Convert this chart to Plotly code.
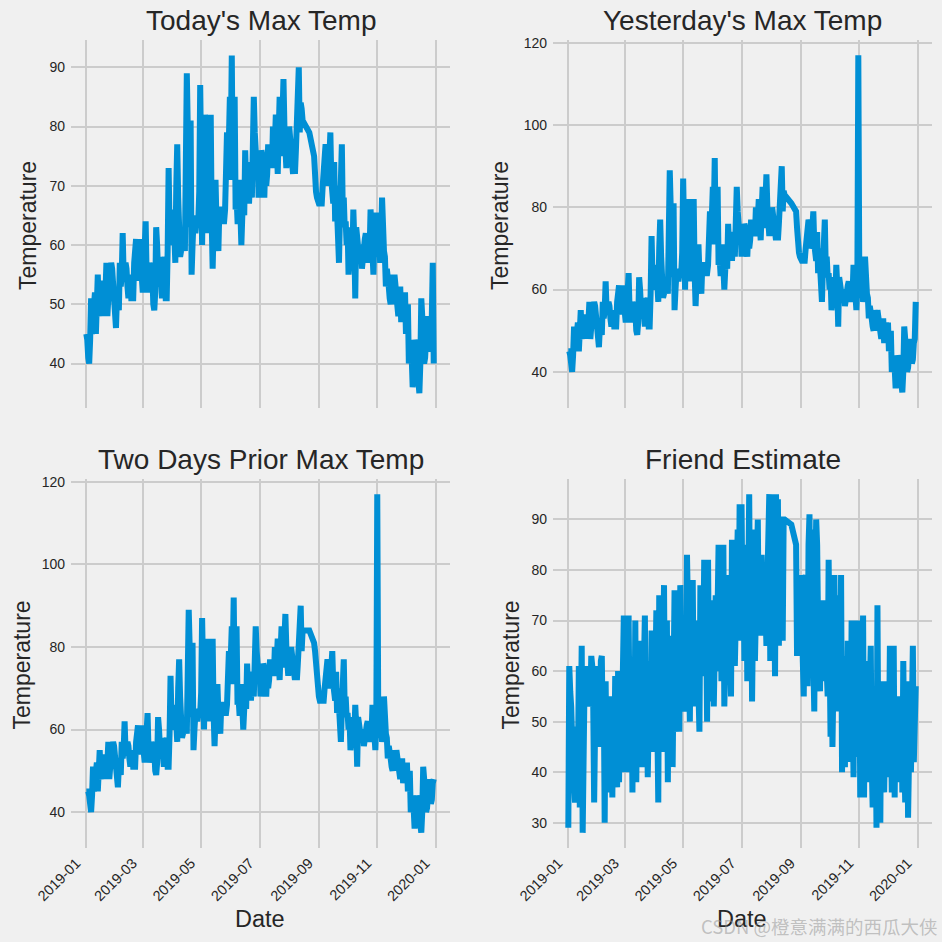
import pandas as pd
import plotly.graph_objs as go

# Aug 16-21 and Aug 23-26 have no readings
skipped = ['2019-08-16', '2019-08-17', '2019-08-18', '2019-08-19', '2019-08-20', '2019-08-21',
           '2019-08-23', '2019-08-24', '2019-08-25', '2019-08-26']
dates = pd.date_range('2019-01-01', '2019-12-30').drop(pd.to_datetime(skipped))

today = [
    45, 44, 41, 40, 44, 51, 45, 48, 50, 52, 45, 49, 55, 49, 48, 54, 50, 54, 48, 52, 52, 57, 48, 51, 54, 56, 57, 56, 52, 48, 47,
    46, 51, 49, 49, 57, 53, 55, 62, 55, 56, 57, 56, 53, 51, 53, 55, 51, 51, 51, 57, 60, 61, 55, 54, 58, 61, 57, 53,
    52, 55, 59, 64, 55, 52, 54, 57, 56, 53, 55, 50, 49, 52, 63, 60, 55, 53, 58, 52, 51, 55, 56, 58, 51, 51, 59, 73, 63, 60, 62,
    60, 66, 62, 57, 70, 77, 68, 60, 58, 59, 60, 61, 61, 59, 72, 89, 80, 68, 63, 81, 55, 60, 64, 65, 62, 64, 63, 64, 69, 87,
    66, 60, 74, 68, 82, 63, 62, 68, 72, 66, 82, 64, 56, 63, 66, 71, 64, 59, 59, 66, 66, 65, 66, 64, 64, 66, 72, 79, 71, 80, 85,
    78, 92, 71, 77, 85, 66, 68, 64, 64, 71, 65, 60, 65, 69, 65, 76, 70, 74, 68, 67, 71, 73, 68, 78, 85, 79, 76, 73, 76, 68,
    72, 68, 76, 75, 70, 68, 74, 70, 72, 77, 74, 73, 75, 73, 80, 79, 77, 82, 78, 72, 79, 85, 78, 75, 82, 88, 80, 76, 73, 76, 74,
    80, 78, 76, 74, 72, 75, 72, 76, 80, 84, 90, 79, 84, 83, 81, 79, 75, 70, 69, 68, 67,
    67, 67, 67, 67, 70, 72, 74, 77, 76, 70, 71, 75, 79, 71, 68, 67, 74, 64, 70, 65, 62, 57, 65, 70, 77, 65, 68, 63, 64, 60,
    63, 55, 60, 62, 63, 58, 66, 61, 51, 63, 60, 60, 58, 59, 60, 56, 59, 58, 61, 62, 60, 57, 62, 59, 66, 60, 58, 55, 62, 58, 65,
    65, 58, 62, 57, 60, 68, 60, 59, 58, 53, 56, 55, 53, 51, 50, 55, 52, 50, 55, 53, 51, 50, 48, 50, 53, 47, 49, 52, 47, 52,
    45, 48, 50, 40, 42, 44, 41, 36, 40, 44, 43, 41, 38, 35, 35, 40, 51, 48, 44, 40, 41, 44, 48, 46, 42, 43, 47, 48, 57, 40,
]

yesterday = [
    45, 45, 44, 41, 40, 44, 51, 45, 48, 50, 52, 45, 49, 55, 49, 48, 54, 50, 54, 48, 52, 52, 57, 48, 51, 54, 56, 57, 56, 52, 48,
    47, 46, 51, 49, 49, 57, 53, 55, 62, 55, 56, 57, 56, 53, 51, 53, 55, 51, 51, 51, 57, 60, 61, 55, 54, 58, 61, 57,
    53, 52, 55, 59, 64, 55, 52, 54, 57, 56, 53, 55, 50, 49, 52, 63, 60, 55, 53, 58, 52, 51, 55, 56, 58, 51, 51, 59, 73, 63, 60,
    62, 60, 66, 62, 57, 70, 77, 68, 60, 58, 59, 60, 61, 61, 59, 72, 89, 80, 68, 63, 81, 55, 60, 64, 65, 62, 64, 63, 64, 69,
    87, 66, 60, 74, 68, 82, 63, 62, 68, 72, 66, 82, 64, 56, 63, 66, 71, 64, 59, 59, 66, 66, 65, 66, 64, 64, 66, 72, 79, 71, 80,
    85, 78, 92, 71, 77, 85, 66, 68, 64, 64, 71, 65, 60, 65, 69, 65, 76, 70, 74, 68, 67, 71, 73, 68, 78, 85, 79, 76, 73, 76,
    68, 72, 68, 76, 75, 70, 68, 74, 70, 72, 77, 74, 73, 75, 73, 80, 79, 77, 82, 78, 72, 79, 85, 78, 75, 82, 88, 80, 76, 73, 76,
    74, 80, 78, 76, 74, 72, 75, 72, 76, 80, 84, 90, 79, 84, 83, 81, 79, 75, 70, 69, 68,
    67, 67, 67, 67, 67, 70, 72, 74, 77, 76, 70, 71, 75, 79, 71, 68, 67, 74, 64, 70, 65, 62, 57, 65, 70, 77, 65, 68, 63, 64,
    60, 63, 55, 60, 62, 63, 58, 66, 61, 51, 63, 60, 60, 58, 59, 60, 56, 59, 58, 61, 62, 60, 57, 62, 59, 66, 60, 58, 55, 62, 117,
    65, 65, 58, 62, 57, 60, 68, 60, 59, 58, 53, 56, 55, 53, 51, 50, 55, 52, 50, 55, 53, 51, 50, 48, 50, 53, 47, 49, 52, 47,
    52, 45, 48, 50, 40, 42, 44, 41, 36, 40, 44, 43, 41, 38, 35, 35, 40, 51, 48, 44, 40, 41, 44, 48, 46, 42, 43, 47, 48, 57,
]

two_days = [
    45, 45, 45, 44, 41, 40, 44, 51, 45, 48, 50, 52, 45, 49, 55, 49, 48, 54, 50, 54, 48, 52, 52, 57, 48, 51, 54, 56, 57, 56, 52,
    48, 47, 46, 51, 49, 49, 57, 53, 55, 62, 55, 56, 57, 56, 53, 51, 53, 55, 51, 51, 51, 57, 60, 61, 55, 54, 58, 61,
    57, 53, 52, 55, 59, 64, 55, 52, 54, 57, 56, 53, 55, 50, 49, 52, 63, 60, 55, 53, 58, 52, 51, 55, 56, 58, 51, 51, 59, 73, 63,
    60, 62, 60, 66, 62, 57, 70, 77, 68, 60, 58, 59, 60, 61, 61, 59, 72, 89, 80, 68, 63, 81, 55, 60, 64, 65, 62, 64, 63, 64,
    69, 87, 66, 60, 74, 68, 82, 63, 62, 68, 72, 66, 82, 64, 56, 63, 66, 71, 64, 59, 59, 66, 66, 65, 66, 64, 64, 66, 72, 79, 71,
    80, 85, 78, 92, 71, 77, 85, 66, 68, 64, 64, 71, 65, 60, 65, 69, 65, 76, 70, 74, 68, 67, 71, 73, 68, 78, 85, 79, 76, 73,
    76, 68, 72, 68, 76, 75, 70, 68, 74, 70, 72, 77, 74, 73, 75, 73, 80, 79, 77, 82, 78, 72, 79, 85, 78, 75, 82, 88, 80, 76, 73,
    76, 74, 80, 78, 76, 74, 72, 75, 72, 76, 80, 84, 90, 79, 84, 84, 81, 79, 75, 70, 69,
    68, 67, 67, 67, 67, 67, 70, 72, 74, 77, 76, 70, 71, 75, 79, 71, 68, 67, 74, 64, 70, 65, 62, 57, 65, 70, 77, 65, 68, 63,
    64, 60, 63, 55, 60, 62, 63, 58, 66, 61, 51, 63, 60, 60, 58, 59, 60, 56, 59, 58, 61, 62, 60, 57, 62, 59, 66, 60, 58, 55, 62,
    117, 65, 65, 58, 62, 57, 60, 68, 60, 59, 58, 53, 56, 55, 53, 51, 50, 55, 52, 50, 55, 53, 51, 50, 48, 50, 53, 47, 49, 52,
    47, 52, 45, 48, 50, 40, 42, 44, 41, 36, 40, 44, 43, 41, 38, 35, 35, 40, 51, 48, 44, 40, 41, 44, 48, 46, 42, 43, 47, 48,
]

friend = [
    29, 61, 56, 53, 41, 40, 38, 34, 47, 49, 39, 61, 33, 58, 65, 28, 47, 58, 53, 61, 57, 60, 53, 54, 63, 61, 54, 34, 49, 47, 61,
    51, 56, 45, 62, 63, 47, 57, 30, 58, 40, 50, 36, 44, 55, 48, 35, 54, 42, 59, 45, 37, 60, 38, 55, 46, 40, 60, 71,
    45, 71, 40, 64, 71, 50, 42, 60, 36, 59, 45, 70, 38, 55, 48, 66, 42, 58, 41, 52, 63, 71, 46, 58, 39, 54, 62, 47, 68, 44, 60,
    48, 55, 72, 50, 34, 75, 52, 64, 44, 58, 77, 49, 60, 70, 38, 64, 45, 56, 67, 41, 57, 76, 52, 48, 66, 73, 48, 77, 55, 62,
    71, 64, 52, 56, 83, 60, 72, 50, 75, 63, 78, 55, 66, 53, 60, 70, 56, 48, 77, 59, 68, 64, 82, 60, 72, 50, 82, 58, 74, 66, 54,
    72, 53, 65, 75, 60, 70, 85, 62, 80, 58, 68, 85, 53, 64, 74, 79, 60, 72, 66, 55, 86, 68, 77, 61, 79, 75, 88, 70, 93, 66,
    93, 72, 80, 62, 76, 85, 58, 72, 95, 66, 80, 54, 74, 88, 62, 70, 82, 90, 68, 75, 67, 83, 72, 70, 80, 75, 65, 78, 88, 95, 62,
    80, 95, 70, 76, 59, 95, 78, 94, 65, 82, 72, 75, 66, 90, 90, 89, 85, 63, 66, 63, 68,
    70, 79, 62, 55, 78, 79, 64, 57, 85, 91, 60, 88, 72, 64, 52, 78, 90, 85, 68, 60, 56, 74, 64, 74, 58, 70, 74, 60, 55, 82,
    55, 47, 70, 45, 58, 79, 52, 68, 60, 52, 75, 60, 79, 40, 58, 63, 41, 58, 50, 66, 47, 60, 42, 70, 50, 39, 70, 48, 62, 43, 55,
    70, 35, 50, 42, 71, 35, 62, 45, 58, 38, 55, 48, 65, 42, 33, 57, 40, 52, 29, 73, 42, 58, 30, 58, 44, 52, 36, 48, 58, 39,
    58, 44, 65, 50, 36, 58, 65, 35, 55, 41, 49, 38, 47, 40, 55, 36, 62, 44, 34, 52, 58, 31, 48, 55, 40, 52, 65, 42, 50, 57,
]

titles = ["Today's Max Temp", "Yesterday's Max Temp", "Two Days Prior Max Temp", "Friend Estimate"]
series = [today, yesterday, two_days, friend]

month_ticks = ['2019-01-01', '2019-03-01', '2019-05-01', '2019-07-01', '2019-09-01', '2019-11-01', '2020-01-01']
month_labels = ['2019-01', '2019-03', '2019-05', '2019-07', '2019-09', '2019-11', '2020-01']

W = 942.0
GRID = '#cccccc'
TEXT = '#262626'
FONT = 'Liberation Sans, Arial, sans-serif'

# pixel boxes of the four panels: left, right, top, bottom
boxes = [(71, 450, 40, 408), (553, 932, 40, 408), (71, 450, 479, 848), (553, 932, 479, 848)]
y_ranges = [[32.5, 94.6], [31.2, 120.7], [31.3, 120.7], [25, 98]]
y_ticks = [[40, 50, 60, 70, 80, 90], [40, 60, 80, 100, 120], [40, 60, 80, 100, 120], [30, 40, 50, 60, 70, 80, 90]]
# where the titles sit, in pixels
title_y = [21, 21, 459, 459]
ylabel_x = [28, 500, 21, 510]
date_x = [260, 742]
date_y = 919

fig = go.Figure()
layout = dict(
    width=942, height=942, autosize=False,
    margin=dict(l=0, r=0, t=0, b=0),
    paper_bgcolor='#f0f0f0', plot_bgcolor='#f0f0f0',
    showlegend=False,
    font=dict(family=FONT, color=TEXT),
    annotations=[],
)


def paper_text(text, px, py, size, **kw):
    return dict(text=text, xref='paper', yref='paper', showarrow=False,
                x=px / W, y=1 - py / W, xanchor='center', yanchor='middle',
                font=dict(size=size, color=TEXT), **kw)


for i, box in enumerate(boxes):
    n = '' if i == 0 else str(i + 1)
    fig.add_trace(go.Scatter(x=dates, y=series[i], mode='lines', xaxis='x' + n, yaxis='y' + n,
                             line=dict(color='#008fd5', width=6)))
    bottom_row = i >= 2
    layout['xaxis' + n] = dict(
        domain=[box[0] / W, box[1] / W], anchor='y' + n, automargin=False,
        type='date', range=['2018-12-16', '2020-01-16'],
        tickmode='array', tickvals=month_ticks, ticktext=month_labels,
        showticklabels=bottom_row, tickangle=-45, tickfont=dict(size=14.5),
        ticklabelshift=-10, ticklabelstandoff=3,
        showgrid=True, gridcolor=GRID, gridwidth=1.8, zeroline=False, showline=False, ticks='',
    )
    layout['yaxis' + n] = dict(
        domain=[1 - box[3] / W, 1 - box[2] / W], anchor='x' + n, automargin=False,
        range=y_ranges[i], tickmode='array', tickvals=y_ticks[i], tickfont=dict(size=14),
        ticklabelstandoff=5,
        showgrid=True, gridcolor=GRID, gridwidth=1.8, zeroline=False, showline=False, ticks='',
    )
    layout['annotations'].append(paper_text(titles[i], (box[0] + box[1]) / 2, title_y[i], 28))
    layout['annotations'].append(paper_text('Temperature', ylabel_x[i], (box[2] + box[3]) / 2 + 2, 23, textangle=-90))

for px in date_x:
    layout['annotations'].append(paper_text('Date', px, date_y, 23.5))

layout['annotations'].append(dict(
    text='CSDN @橙意满满的西瓜大侠', xref='paper', yref='paper', showarrow=False,
    x=940 / W, y=1 - 926 / W, xanchor='right', yanchor='middle',
    font=dict(size=18.5, color='rgba(150,150,150,0.55)', family='Noto Sans CJK SC'),
))

fig.update_layout(**layout)
fig.write_html('out.html', config=dict(displayModeBar=False), post_script="document.body.style.margin='0';")
